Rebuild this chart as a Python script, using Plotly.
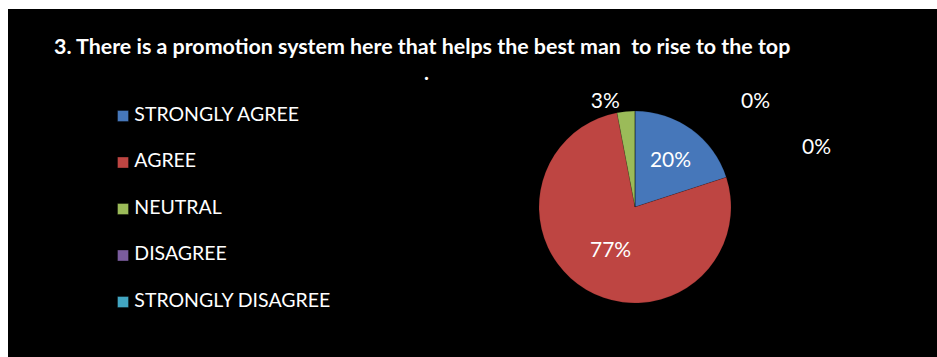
import plotly.graph_objects as go

W, H = 937, 357

categories = ["STRONGLY AGREE", "AGREE", "NEUTRAL", "DISAGREE", "STRONGLY DISAGREE"]
shares = [20, 77, 3, 0, 0]
colors = ["#4677BA", "#BE4542", "#9BBB59", "#7A5C9E", "#42A6C2"]
title_text = "3. There is a promotion system here that helps the best man  to rise to the top"

FONT = "Lato"
total = sum(shares)


def px_x(v):
    return v / W


def px_y(v):
    return 1 - v / H


fig = go.Figure()

# pie: clockwise from 12 o'clock, zero slices carry no in-pie text
cx, cy, r = 635, 207, 96
fig.add_trace(go.Pie(
    labels=categories,
    values=shares,
    sort=False,
    direction="clockwise",
    rotation=0,
    marker=dict(colors=colors, line=dict(color="rgba(0,0,0,0.25)", width=0.5)),
    texttemplate=["%{percent:.0%}" if v > 0 else "" for v in shares],
    textposition=["inside" if v / total >= 0.1 else "outside" for v in shares],
    insidetextorientation="horizontal",
    textfont=dict(family=FONT, size=21, color="white"),
    showlegend=False,
    hoverinfo="label+percent",
    domain=dict(x=[px_x(cx - r), px_x(cx + r)], y=[px_y(cy + r), px_y(cy - r)]),
))

# key: one square per category, name to its right
fig.add_trace(go.Scatter(
    x=[0] * len(categories),
    y=categories,
    mode="markers",
    marker=dict(symbol="square", size=11, color=colors,
                line=dict(color="rgba(0,0,0,0.35)", width=1)),
    showlegend=False,
    hoverinfo="skip",
    cliponaxis=False,
))
fig.add_trace(go.Scatter(
    x=[0.3] * len(categories),
    y=categories,
    mode="text",
    text=categories,
    textposition="middle right",
    textfont=dict(family=FONT, size=19.5, color="white"),
    showlegend=False,
    hoverinfo="skip",
    cliponaxis=False,
))

# labels for the empty slices
zero_pos = [(755, 99), (816, 145)]
annotations = []
k = 0
for v in shares:
    if v == 0:
        x, y = zero_pos[k]
        k += 1
        annotations.append(dict(
            x=px_x(x), y=px_y(y), xref="paper", yref="paper",
            text=f"{v / total:.0%}", showarrow=False,
            xanchor="center", yanchor="middle",
            font=dict(family=FONT, size=21, color="white"),
        ))

annotations.append(dict(
    x=px_x(52), y=px_y(46), xref="paper", yref="paper",
    text=f"<b>{title_text}</b>", showarrow=False,
    xanchor="left", yanchor="middle",
    font=dict(family=FONT, size=21.4, color="white"),
))
annotations.append(dict(
    x=px_x(426), y=px_y(72), xref="paper", yref="paper",
    text="<b>.</b>", showarrow=False,
    xanchor="center", yanchor="middle",
    font=dict(family=FONT, size=21, color="white"),
))

rows_top, rows_bottom = 116, 302
n = len(categories)
step = (rows_bottom - rows_top) / (n - 1)
fig.update_layout(
    width=W, height=H,
    margin=dict(l=0, r=0, t=0, b=0),
    paper_bgcolor="white",
    plot_bgcolor="rgba(0,0,0,0)",
    xaxis=dict(domain=[px_x(123), px_x(500)], range=[0, 10],
               visible=False, fixedrange=True),
    yaxis=dict(domain=[px_y(rows_bottom + step / 2), px_y(rows_top - step / 2)],
               type="category", categoryorder="array", categoryarray=categories,
               range=[n - 0.5, -0.5], visible=False, fixedrange=True),
    shapes=[dict(type="rect", xref="paper", yref="paper",
                 x0=px_x(8), x1=1, y0=0, y1=px_y(9),
                 fillcolor="black", line=dict(width=0), layer="below")],
    annotations=annotations,
)

fig.write_html("out.html")
